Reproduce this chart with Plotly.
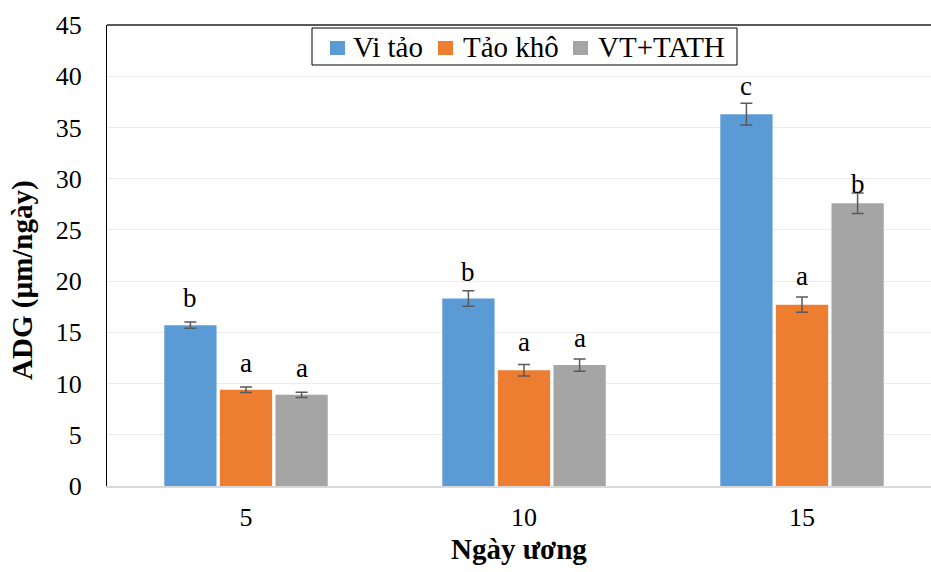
import plotly.graph_objects as go

categories = ["5", "10", "15"]
series_names = ["Vi tảo", "Tảo khô", "VT+TATH"]
vi_tao = [15.7, 18.3, 36.3]
tao_kho = [9.4, 11.3, 17.7]
vt_tath = [8.9, 11.8, 27.6]
err_vi_tao = [0.3, 0.75, 1.05]
err_tao_kho = [0.27, 0.57, 0.75]
err_vt_tath = [0.25, 0.6, 1.0]
letters_vi_tao = ["b", "b", "c"]
letters_tao_kho = ["a", "a", "a"]
letters_vt_tath = ["a", "a", "b"]
y_ticks = [0, 5, 10, 15, 20, 25, 30, 35, 40, 45]
x_title = "Ngày ương"
y_title = "ADG (µm/ngày)"

colors = ["#5B9BD5", "#ED7D31", "#A5A5A5"]
values = [vi_tao, tao_kho, vt_tath]
errs = [err_vi_tao, err_tao_kho, err_vt_tath]
letters = [letters_vi_tao, letters_tao_kho, letters_vt_tath]
# pixel lift of each significance letter above its error bar (style only)
letter_shift = [[7, 2, 0], [7, 5, 4], [7, 4, -8]]

FONT = "Liberation Serif, Times New Roman, serif"

# plot-area geometry in pixels (for converting legend placement to paper coords)
W, H = 931, 572
L, R, T, B = 107, 0, 25, 86
PW, PH = W - L - R, H - T - B


def px(xp):
    return (xp - L) / PW


def py(yp):
    return (H - B - yp) / PH


fig = go.Figure()
for name, v, e, c in zip(series_names, values, errs, colors):
    fig.add_trace(go.Bar(
        name=name, x=categories, y=v, marker_color=c,
        marker_line_width=0, showlegend=False,
        error_y=dict(type="data", array=e, visible=True, color="#595959",
                     thickness=1.5, width=6),
    ))

offsets = [-0.2, 0.0, 0.2]
annotations = []
for si in range(3):
    for ci in range(3):
        annotations.append(dict(
            x=ci + offsets[si], y=values[si][ci] + errs[si][ci],
            xref="x", yref="y", text=letters[si][ci], showarrow=False,
            yanchor="bottom", yshift=letter_shift[si][ci],
            font=dict(family=FONT, size=27, color="black"),
        ))
annotations.append(dict(
    x=0.5, y=-0.136, xref="paper", yref="paper", xanchor="center", yanchor="middle",
    text="<b>" + x_title + "</b>", showarrow=False,
    font=dict(family=FONT, size=29, color="black"),
))
annotations.append(dict(
    x=0, y=0.447, xref="paper", yref="paper", xanchor="center", yanchor="middle",
    xshift=-84, textangle=-90,
    text="<b>" + y_title + "</b>", showarrow=False,
    font=dict(family=FONT, size=29, color="black"),
))

# custom legend (box, colour squares, labels)
shapes = [
    dict(type="line", xref="paper", yref="paper", x0=0, x1=1, y0=1, y1=1,
         line=dict(color="#595959", width=2)),
    dict(type="rect", xref="paper", yref="paper", x0=px(312), x1=px(737),
         y0=py(65), y1=py(28), line=dict(color="black", width=1), fillcolor="white",
         layer="above"),
]
sq_x = [330, 438, 573]
txt_x = [351, 461, 596]
for name, c, sx, tx in zip(series_names, colors, sq_x, txt_x):
    shapes.append(dict(type="rect", xref="paper", yref="paper",
                       x0=px(sx), x1=px(sx + 15), y0=py(55), y1=py(41),
                       line=dict(width=0), fillcolor=c, layer="above"))
    annotations.append(dict(
        x=px(tx), y=py(47), xref="paper", yref="paper", xanchor="left", yanchor="middle",
        text=name, showarrow=False, font=dict(family=FONT, size=29, color="black"),
    ))

fig.update_layout(
    width=W, height=H,
    margin=dict(l=L, r=R, t=T, b=B),
    paper_bgcolor="white", plot_bgcolor="white",
    barmode="group", bargap=0.40, bargroupgap=0.06,
    font=dict(family=FONT, size=26, color="black"),
    showlegend=False,
    annotations=annotations,
    shapes=shapes,
    xaxis=dict(
        range=[-0.5, 2.464], showline=True, linecolor="#D9D9D9", linewidth=2,
        ticks="", tickfont=dict(family=FONT, size=26), ticklabelstandoff=7,
        automargin=False,
    ),
    yaxis=dict(
        range=[0, 45], tickvals=y_ticks, showline=True, linecolor="black", linewidth=1,
        gridcolor="#EBEBEB", gridwidth=1, zeroline=False, ticks="",
        tickfont=dict(family=FONT, size=26), ticklabelstandoff=19,
        automargin=False,
    ),
)

fig.write_html(
    "out.html",
    config={"responsive": False, "displayModeBar": False},
    post_script=(
        "document.documentElement.style.overflow='hidden';"
        "document.documentElement.style.scrollbarWidth='none';"
        "document.body.style.margin='0';"
        "document.body.style.overflow='hidden';"
        "var gd=document.getElementById('{plot_id}');"
        "Plotly.relayout(gd,{width:931,height:572});"
    ),
)
